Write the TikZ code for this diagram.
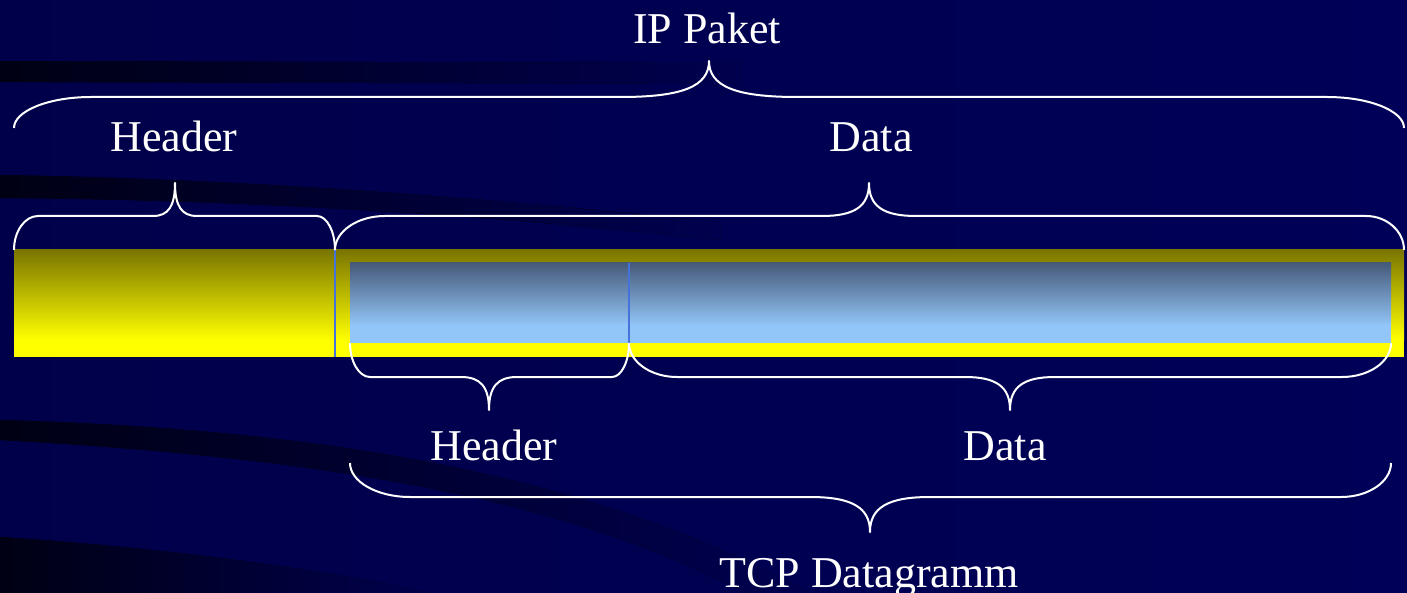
\documentclass[tikz,border=0pt]{standalone}
\usepackage{fontspec}
\setmainfont{Liberation Serif}
\definecolor{bgleft}{HTML}{00004A}
\definecolor{bgright}{HTML}{000058}
\definecolor{streak}{HTML}{000014}
\definecolor{olivetop}{HTML}{7A7500}
\definecolor{baryellow}{HTML}{FFFF00}
\definecolor{tcptop}{HTML}{465A7A}
\definecolor{tcpbottom}{HTML}{93C6F8}
\definecolor{divider}{HTML}{4672DC}
\tikzset{
  bracepath/.style={draw=white, line width=2pt, line join=round},
  tagtext/.style={text=white, font=\fontsize{44}{50}\selectfont, anchor=base, inner sep=0pt},
  dividerline/.style={draw=divider, line width=2pt},
}
% horizontal curly brace: ends x1,x2 at height ye, straight part at yl,
% tip at (xm,yt); corner widths cwL/cwR, tip half-width tw
\newcommand\layerbrace[9]{%
  \draw[bracepath] (#1,#3) .. controls (#1,{#3+0.55*(#4-#3)}) and ({#1+0.45*#7},#4) .. ({#1+#7},#4)
    -- ({#5-#9},#4) .. controls ({#5-0.3*#9},#4) and (#5,{#4+0.3*(#6-#4)}) .. (#5,#6)
    .. controls (#5,{#4+0.3*(#6-#4)}) and ({#5+0.3*#9},#4) .. ({#5+#9},#4)
    -- ({#2-#8},#4) .. controls ({#2-0.45*#8},#4) and (#2,{#3+0.55*(#4-#3)}) .. (#2,#3);}
\begin{document}
\begin{tikzpicture}[x=1pt,y=-1pt]
\useasboundingbox (0,0) rectangle (1407,593);
\clip (0,0) rectangle (1407,593);
% backdrop with dark swooshes
\fill[left color=bgleft, right color=bgright] (0,0) rectangle (1407,593);
\fill[left color=streak, right color=bgleft!70!bgright] (0,61) -- (740,63) -- (740,84) -- (0,82) -- cycle;
\fill[left color=streak, right color=bgleft!70!bgright] (0,175) .. controls (300,180) and (550,205) .. (720,222)
  -- (720,240) .. controls (550,222) and (300,200) .. (0,198) -- cycle;
\fill[left color=streak, right color=bgleft!60!bgright] (0,420) .. controls (350,430) and (600,480) .. (810,593)
  -- (745,593) .. controls (570,500) and (330,458) .. (0,440) -- cycle;
\fill[left color=streak, right color=bgleft!85!bgright] (0,537) .. controls (200,550) and (350,575) .. (430,593)
  -- (0,593) -- cycle;
% IP packet bar
\shade[top color=olivetop, bottom color=baryellow] (14,250) rectangle (1404,340);
\fill[baryellow] (14,339.5) rectangle (1404,357);
% TCP datagram inside the IP payload
\shade[top color=tcptop, bottom color=tcpbottom] (350,263) rectangle (1391,326);
\fill[tcpbottom] (350,325.5) rectangle (1391,343);
\draw[dividerline] (335,250) -- (335,357);
\draw[dividerline] (629,263) -- (629,343);
% braces
\layerbrace{14}{1404}{128}{97}{709}{61}{77}{77}{88}
\layerbrace{14}{335}{250}{216}{175}{183}{24}{18}{22}
\layerbrace{335}{1404}{250}{216}{869}{183}{50}{38}{47}
\layerbrace{350}{629}{343}{377}{489}{410}{20}{17}{28}
\layerbrace{629}{1391}{343}{377}{1010}{410}{48}{49}{45}
\layerbrace{350}{1391}{463}{497}{870}{532}{60}{50}{60}
% labels
\node[tagtext] (ippaket) at (707,44) {IP Paket};
\node[tagtext] (iphead) at (174,152) {Header};
\node[tagtext] (ipdata) at (871,152) {Data};
\node[tagtext] (tcphead) at (494,460) {Header};
\node[tagtext] (tcpdata) at (1005,460) {Data};
\node[tagtext] (tcpdg) at (869,587) {TCP Datagramm};
\end{tikzpicture}
\end{document}
